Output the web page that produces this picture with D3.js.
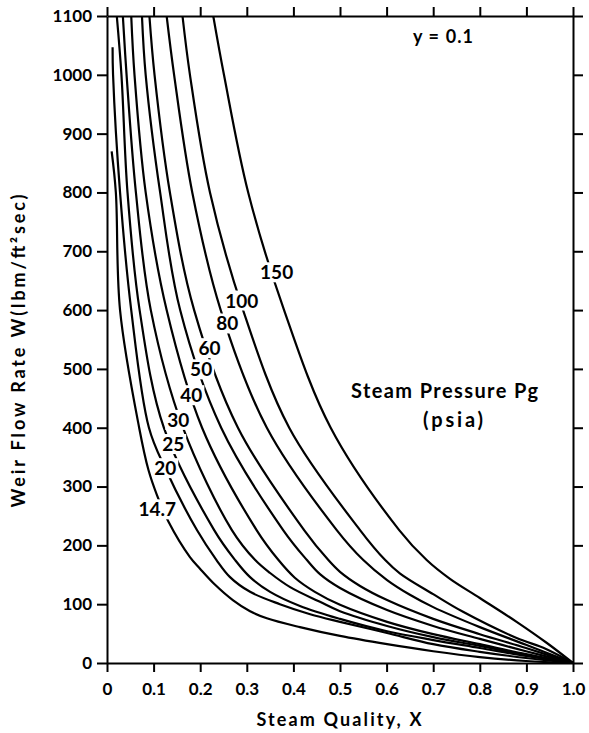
<!DOCTYPE html>
<html>
<head>
<meta charset="utf-8">
<script src="https://cdn.jsdelivr.net/npm/d3@7"></script>
<style>
body { margin: 0; background: #fff; }
svg { display: block; font-family: Lato, "DejaVu Sans", sans-serif; font-weight: 700; }
.axis path, .axis line { stroke: #000; stroke-width: 2; }
.axis text { font-family: Lato, sans-serif; font-size: 17px; font-weight: 700; fill: #000; }
.curve { fill: none; stroke: #000; stroke-width: 2.2; }
.lbl { font-size: 19px; fill: #000; }
</style>
</head>
<body>
<div id="chart"></div>
<script>
// steam pressure of each curve (psia)
var pressures = ["14.7", "20", "25", "30", "40", "50", "60", "80", "100", "150"];

// [steam quality X, weir flow rate W]
var c14_7 = [[0.010,870],[0.019,800],[0.028,600],[0.069,400],[0.089,328],[0.107,286],[0.132,240],[0.178,180],[0.200,160],[0.232,133],[0.270,107],[0.307,88],[0.343,76],[0.414,61],[0.500,46],[0.601,32],[0.700,20],[0.800,10],[0.899,3.4],[1.000,0]];
var c20   = [[0.012,1047],[0.013,1000],[0.028,800],[0.052,600],[0.090,400],[0.125,331],[0.193,226],[0.235,175],[0.264,146],[0.307,121],[0.371,100],[0.436,83],[0.500,70],[0.601,51],[0.700,32],[0.800,19],[0.899,8.5],[1.000,0]];
var c25   = [[0.021,1100],[0.031,1000],[0.044,800],[0.070,600],[0.122,400],[0.230,226],[0.275,175],[0.307,146],[0.350,121],[0.414,97],[0.500,75],[0.601,54],[0.700,39],[0.800,25.5],[0.899,12],[1.000,0]];
var c30   = [[0.034,1100],[0.042,1000],[0.062,800],[0.094,600],[0.163,400],[0.268,226],[0.318,175],[0.350,153],[0.393,129],[0.457,104],[0.500,88],[0.601,63],[0.700,44],[0.800,29],[0.899,13.6],[1.000,0]];
var c40   = [[0.052,1100],[0.059,1000],[0.083,800],[0.128,600],[0.204,400],[0.321,226],[0.368,175],[0.403,145],[0.446,121],[0.500,99],[0.601,70],[0.700,49],[0.800,32],[0.899,15],[1.000,0]];
var c50   = [[0.075,1100],[0.083,1000],[0.114,800],[0.157,600],[0.245,400],[0.378,226],[0.429,175],[0.457,151],[0.500,127.5],[0.601,90],[0.700,63],[0.800,41],[0.899,20],[1.000,0]];
var c60   = [[0.091,1100],[0.102,1000],[0.135,800],[0.187,600],[0.281,400],[0.423,226],[0.475,175],[0.500,155],[0.543,131],[0.601,107],[0.700,75],[0.800,49],[0.899,25.5],[1.000,0]];
var c80   = [[0.128,1100],[0.144,1000],[0.183,800],[0.244,600],[0.343,400],[0.493,226],[0.550,175],[0.601,141],[0.650,116],[0.700,95],[0.800,61],[0.899,31],[1.000,0]];
var c100  = [[0.162,1100],[0.178,1000],[0.221,800],[0.292,600],[0.391,400],[0.543,226],[0.597,175],[0.629,152],[0.700,117],[0.764,87],[0.879,42.5],[0.942,24],[1.000,0]];
var c150  = [[0.228,1100],[0.251,1000],[0.303,800],[0.380,600],[0.480,400],[0.627,226],[0.686,175],[0.736,143],[0.800,110.5],[0.879,70],[0.944,34],[1.000,0]];

// where each pressure label sits [X, W]
var labelAt = [[0.108,261],[0.125,331],[0.142,372],[0.153,413],[0.181,455],[0.202,499],[0.220,535],[0.258,577],[0.289,616],[0.364,664]];

var xTicks = [0,0.1,0.2,0.3,0.4,0.5,0.6,0.7,0.8,0.9,1.0];
var xTickLabels = ["0","0.1","0.2","0.3","0.4","0.5","0.6","0.7","0.8","0.9","1.0"];
var yTicks = [0,100,200,300,400,500,600,700,800,900,1000,1100];

var chart = {
	padding: {l:107, r:16, t:16, b:70},
	w: 589,
	h: 733,
	svg: null
};

function drawChart() {
	var curves = [c14_7, c20, c25, c30, c40, c50, c60, c80, c100, c150];

	chart.svg = d3.select('#chart').append('svg')
				.attr('width', chart.w)
				.attr('height', chart.h);
	var svg = chart.svg;

	var x = d3.scaleLinear()
				.domain([0, 1])
				.range([chart.padding.l, chart.w - chart.padding.r]);
	var y = d3.scaleLinear()
				.domain([0, 1100])
				.range([chart.h - chart.padding.b, chart.padding.t]);

	svg.append('defs').append('clipPath')
			.attr('id', 'plot')
			.append('rect')
				.attr('x', x(0))
				.attr('y', y(1100))
				.attr('width', x(1) - x(0))
				.attr('height', y(0) - y(1100));

	var line = d3.line()
				.x(d => x(d[0]))
				.y(d => y(d[1]))
				.curve(d3.curveCatmullRom.alpha(0.5));

	svg.append('g')
			.attr('clip-path', 'url(#plot)')
			.selectAll('path')
			.data(curves)
			.enter()
			.append('path')
				.attr('class', 'curve')
				.attr('d', line);

	// labels break the curves
	var lbl = svg.append('g')
			.selectAll('g')
			.data(pressures)
			.enter()
			.append('g')
				.attr('transform', (d,i) => 'translate(' + x(labelAt[i][0]) + ',' + y(labelAt[i][1]) + ')');
	lbl.append('text')
			.attr('class', 'lbl')
			.attr('text-anchor', 'middle')
			.attr('dy', '0.36em')
			.text(d => d);
	lbl.insert('rect', 'text')
			.each(function() {
				var b = this.parentNode.querySelector('text').getBBox();
				d3.select(this)
					.attr('x', b.x - 2).attr('y', b.y + 2)
					.attr('width', b.width + 4).attr('height', b.height - 3)
					.attr('fill', '#fff');
			});

	// axes on all four sides, ticks pointing out
	svg.append('g')
			.attr('class', 'axis x')
			.attr('transform', 'translate(0,' + y(0) + ')')
			.call(d3.axisBottom(x).tickValues(xTicks).tickFormat((d,i) => xTickLabels[i]).tickSize(9).tickSizeOuter(0).tickPadding(11));
	svg.append('g')
			.attr('class', 'axis')
			.attr('transform', 'translate(0,' + y(1100) + ')')
			.call(d3.axisTop(x).tickValues(xTicks).tickFormat('').tickSize(9).tickSizeOuter(0));
	svg.append('g')
			.attr('class', 'axis y')
			.attr('transform', 'translate(' + x(0) + ',0)')
			.call(d3.axisLeft(y).tickValues(yTicks).tickFormat(d3.format('d')).tickSize(10).tickSizeOuter(0).tickPadding(5));
	svg.append('g')
			.attr('class', 'axis')
			.attr('transform', 'translate(' + x(1) + ',0)')
			.call(d3.axisRight(y).tickValues(yTicks).tickFormat('').tickSize(10).tickSizeOuter(0));

	// titles
	svg.append('text')
			.attr('transform', 'translate(25,351) rotate(-90)')
			.attr('text-anchor', 'middle')
			.attr('font-size', 18)
			.attr('textLength', 313)
			.attr('lengthAdjust', 'spacing')
			.text('Weir Flow Rate W(lbm/ft\u00B2sec)');
	svg.append('text')
			.attr('x', 339)
			.attr('y', 726)
			.attr('text-anchor', 'middle')
			.attr('font-size', 18)
			.attr('textLength', 165)
			.attr('lengthAdjust', 'spacing')
			.text('Steam Quality, X');

	svg.append('text')
			.attr('x', 413).attr('y', 43)
			.attr('font-size', 18)
			.attr('textLength', 60)
			.attr('lengthAdjust', 'spacing')
			.text('y = 0.1');
	svg.append('text')
			.attr('x', 351).attr('y', 398)
			.attr('font-size', 20)
			.attr('textLength', 187)
			.attr('lengthAdjust', 'spacing')
			.text('Steam Pressure Pg');
	svg.append('text')
			.attr('x', 423).attr('y', 427)
			.attr('font-size', 20)
			.attr('textLength', 60)
			.attr('lengthAdjust', 'spacing')
			.text('(psia)');
}

drawChart();
</script>
</body>
</html>
